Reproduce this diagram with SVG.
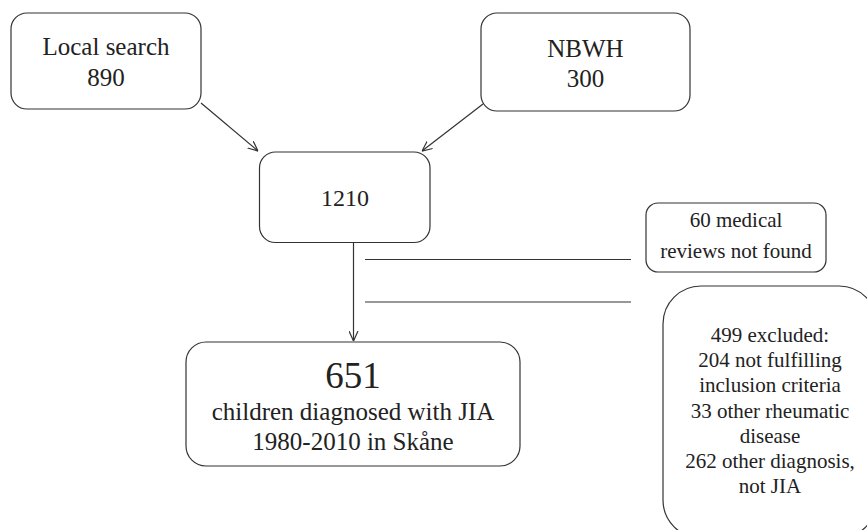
<svg xmlns="http://www.w3.org/2000/svg" width="867" height="530" viewBox="0 0 867 530">
<defs>
<style>
.box{fill:#fff;stroke:#333;stroke-width:1.2}
text{font-family:'Liberation Serif','Times New Roman',serif;fill:#222;text-anchor:middle}
.c{stroke:#333;stroke-width:1.2;fill:none}
.big{font-size:25px}
.sm{font-size:21px}
</style>
<marker id="ah" viewBox="0 0 10 10" refX="10" refY="5" markerWidth="10" markerHeight="10" markerUnits="userSpaceOnUse" orient="auto">
<path d="M0,0.5 L10,5 L0,9.5" fill="none" stroke="#333" stroke-width="1.2"/>
</marker>
</defs>
<rect width="867" height="530" fill="#fff"/>
<g id="connectors">
<line class="c" x1="201" y1="103" x2="258" y2="151" marker-end="url(#ah)"/>
<line class="c" x1="483" y1="104" x2="422" y2="151" marker-end="url(#ah)"/>
<line class="c" x1="353.5" y1="243" x2="353.5" y2="341" marker-end="url(#ah)"/>
<line class="c" x1="365" y1="259.5" x2="631" y2="259.5"/>
<line class="c" x1="365" y1="302" x2="631" y2="302"/>
</g>
<g id="local">
<rect class="box" x="11" y="13" width="190" height="96" rx="16"/>
<text class="big" x="106" y="55">Local search</text>
<text class="big" x="106" y="86">890</text>
</g>
<g id="nbwh">
<rect class="box" x="481" y="13" width="209" height="98" rx="16"/>
<text class="big" x="585.5" y="57">NBWH</text>
<text class="big" x="585.5" y="87">300</text>
</g>
<g id="n1210">
<rect class="box" x="259.5" y="152" width="170.5" height="90.5" rx="16"/>
<text x="345" y="206" font-size="24">1210</text>
</g>
<g id="n651">
<rect class="box" x="186" y="342" width="334" height="124" rx="20"/>
<text x="353" y="388" font-size="37">651</text>
<text class="big" x="353" y="420">children diagnosed with JIA</text>
<text class="big" x="353" y="450">1980-2010 in Skåne</text>
</g>
<g id="notfound">
<rect class="box" x="646" y="203" width="180" height="69" rx="12"/>
<text class="sm" x="736" y="227">60 medical</text>
<text class="sm" x="736" y="258">reviews not found</text>
</g>
<g id="excluded">
<rect class="box" x="663" y="286" width="214" height="252" rx="38"/>
<text class="sm" x="770" y="342">499 excluded:</text>
<text class="sm" x="770" y="367">204 not fulfilling</text>
<text class="sm" x="770" y="392">inclusion criteria</text>
<text class="sm" x="770" y="418">33 other rheumatic</text>
<text class="sm" x="770" y="443">disease</text>
<text class="sm" x="770" y="468">262 other diagnosis,</text>
<text class="sm" x="770" y="493">not JIA</text>
</g>
</svg>
